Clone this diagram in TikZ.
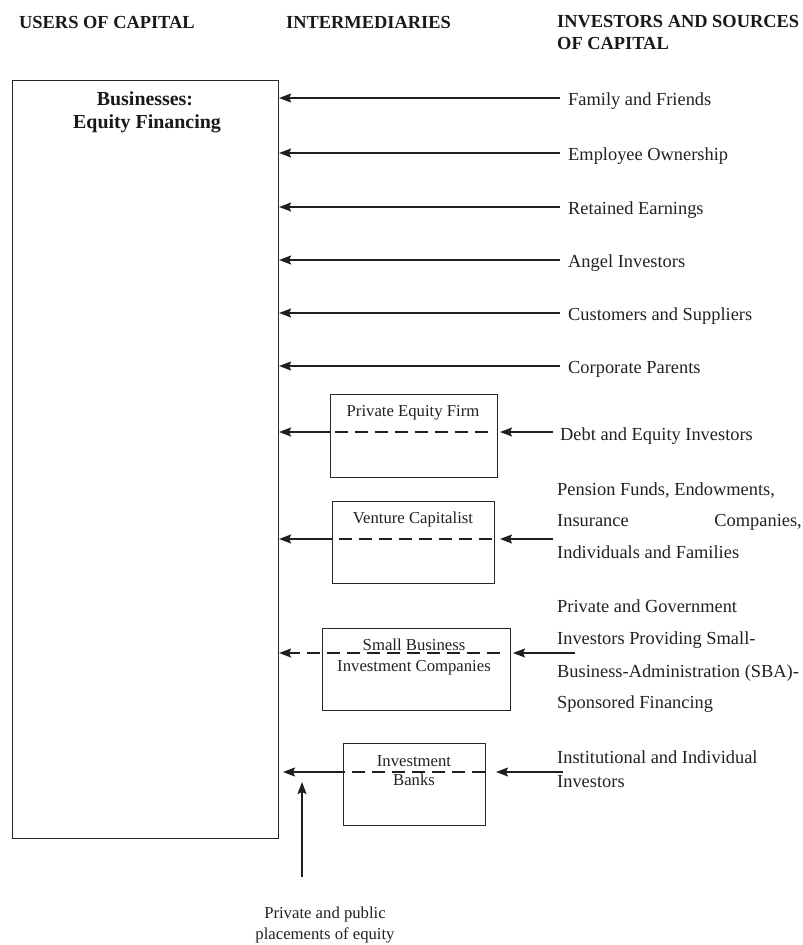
\documentclass[tikz,border=0pt]{standalone}
\usepackage{fontspec}
\setmainfont{Liberation Serif}
\usetikzlibrary{arrows.meta}
\begin{document}
\begin{tikzpicture}[x=1pt,y=-1pt,
  hdr/.style={font=\fontsize{18.4}{21}\selectfont\bfseries, inner sep=0, anchor=base west, text=black!90},
  src/.style={font=\fontsize{18.4}{21}\selectfont, inner sep=0, anchor=base west, text=black!87},
  lbl/.style={font=\fontsize{16.7}{20}\selectfont, inner sep=0, anchor=base, text=black!87},
  ttl/.style={font=\fontsize{19.9}{23}\selectfont\bfseries, inner sep=0, anchor=base, text=black!90},
  flow/.style={line width=1.5pt, draw=black!88, -{Stealth[length=12pt,width=9pt,inset=2pt]}},
  dashseg/.style={line width=1.5pt, draw=black!88, dash pattern=on 13pt off 7pt},
  box/.style={draw=black!85, line width=1.1pt, inner sep=0, anchor=north west}]

\useasboundingbox (0,0) rectangle (803,945);

% column headings
\node[hdr] (husers) at (19,28) {USERS OF CAPITAL};
\node[hdr] (hinter) at (286,28) {INTERMEDIARIES};
\node[hdr] (hinv1) at (557,27) {INVESTORS AND SOURCES};
\node[hdr] (hinv2) at (557,49) {OF CAPITAL};

% users of capital
\node[box, minimum width=266pt, minimum height=758pt] (biz) at (12,80) {};
\node[ttl] (biz1) at (145,105) {Businesses:};
\node[ttl] (biz2) at (147,128) {Equity Financing};

% direct sources
\foreach \n/\y/\t in {1/98/Family and Friends, 2/153/Employee Ownership,
    3/207/Retained Earnings, 4/260/Angel Investors,
    5/313/Customers and Suppliers, 6/366/Corporate Parents}{
  \coordinate (s\n) at (560,\y);
  \node[src] (src\n) at (568,\y+7.5) {\t};
  \draw[flow] (s\n) -- (s\n -| biz.east);
}

% private equity firm
\node[box, minimum width=167pt, minimum height=83pt] (pef) at (330,394) {};
\node[lbl] (pefl) at (413,416) {Private Equity Firm};
\coordinate (pefa) at (488,432);
\draw[dashseg] (pefa) -- (pefa -| pef.west);
\draw[flow] (pefa -| pef.west) -- (pefa -| biz.east);
\coordinate (pefs) at (553,432);
\draw[flow] (pefs) -- (500,432);
\node[src] (pefsrc) at (560,440) {Debt and Equity Investors};

% venture capitalist
\node[box, minimum width=162pt, minimum height=82pt] (vc) at (332,501) {};
\node[lbl] (vcl) at (413,523) {Venture Capitalist};
\coordinate (vca) at (492,539);
\draw[dashseg] (vca) -- (vca -| vc.west);
\draw[flow] (vca -| vc.west) -- (vca -| biz.east);
\coordinate (vcs) at (553,539);
\draw[flow] (vcs) -- (500,539);
\node[src] (vcsrc1) at (557,495) {Pension Funds, Endowments,};
\node[src] (vcsrc2) at (557,526) {Insurance};
\node[src, anchor=base east] (vcsrc3) at (802,526) {Companies,};
\node[src] (vcsrc4) at (557,558) {Individuals and Families};

% small business investment companies
\node[box, minimum width=188pt, minimum height=82pt] (sbic) at (322,628) {};
\node[lbl] (sbicl1) at (414,650) {Small Business};
\node[lbl] (sbicl2) at (414,671) {Investment Companies};
\coordinate (sbica) at (500,653);
\coordinate (sbicb) at (298,653);
\draw[dashseg] (sbica) -- (sbicb);
\draw[flow] (sbicb) -- (sbicb -| biz.east);
\coordinate (sbics) at (575,653);
\draw[flow] (sbics) -- (513,653);
\node[src] (sbicsrc1) at (557,612) {Private and Government};
\node[src] (sbicsrc2) at (557,644) {Investors Providing Small-};
\node[src] (sbicsrc3) at (557,677) {Business-Administration (SBA)-};
\node[src] (sbicsrc4) at (557,708) {Sponsored Financing};

% investment banks
\node[box, minimum width=142pt, minimum height=82pt] (ib) at (343,743) {};
\node[lbl] (ibl1) at (414,766) {Investment};
\node[lbl] (ibl2) at (414,785) {Banks};
\coordinate (iba) at (485,772);
\coordinate (ibtip) at (283,772);
\draw[dashseg] (iba) -- (iba -| ib.west);
\draw[flow] (iba -| ib.west) -- (ibtip);
\coordinate (ibs) at (563,772);
\draw[flow] (ibs) -- (496,772);
\node[src] (ibsrc1) at (557,763) {Institutional and Individual};
\node[src] (ibsrc2) at (557,787) {Investors};

% placements of equity
\coordinate (pp) at (302,877);
\coordinate (pptip) at (302,782);
\draw[flow] (pp) -- (pptip);
\node[lbl] (ppl1) at (325,918) {Private and public};
\node[lbl] (ppl2) at (325,939) {placements of equity};

\end{tikzpicture}
\end{document}
